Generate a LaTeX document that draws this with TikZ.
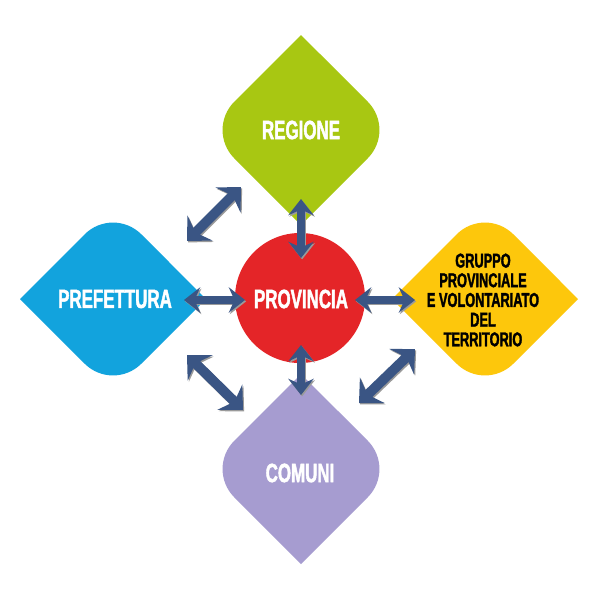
\documentclass[tikz,border=0pt]{standalone}
\usepackage{fontspec}
\newfontfamily\cond[FakeStretch=0.64, BoldFeatures={FakeBold=1.6}]{Liberation Sans}
\usetikzlibrary{arrows.meta}
\definecolor{cgreen}{HTML}{A8C712}
\definecolor{cblue}{HTML}{12A3DD}
\definecolor{cyellow}{HTML}{FDC70C}
\definecolor{cpurple}{HTML}{A69CD0}
\definecolor{cred}{HTML}{E42528}
\definecolor{carrow}{HTML}{3A5584}
\definecolor{cshadow}{HTML}{9A9A9A}
% vertical drop: sharp top/bottom, rounded left/right
\newcommand\vdropshape[3]{%
  \fill[#3] (#1,#2-95) -- (#1-66.72,#2-28.28) arc[start angle=225,end angle=135,radius=40]
    -- (#1,#2+95) -- (#1+66.72,#2+28.28) arc[start angle=45,end angle=-45,radius=40] -- cycle;}
% horizontal drop: sharp left/right, rounded top/bottom
\newcommand\hdropshape[3]{%
  \fill[#3] (#1-93,#2) -- (#1-28.28,#2-64.72) arc[start angle=225,end angle=315,radius=40]
    -- (#1+93,#2) -- (#1+28.28,#2+64.72) arc[start angle=45,end angle=135,radius=40] -- cycle;}
\newcommand\dblarrow[3]{%
  \draw[#1, cshadow, transform canvas={shift={(0.8pt,-1pt)}}] (#2) -- (#3);
  \draw[#1, carrow] (#2) -- (#3);}
\tikzset{
  lblw/.style={text=white, inner sep=0pt, font=\cond\bfseries\fontsize{18.8}{20}\selectfont},
  lblk/.style={text=black, inner sep=0pt, align=center, font=\cond\bfseries\fontsize{14.2}{14}\selectfont},
  axarrow/.style={line width=5pt, >={Stealth[length=11.5pt,width=18pt,inset=4pt]}, <->},
  dgarrow/.style={line width=7pt, >={Stealth[length=13pt,width=25pt,inset=4.5pt]}, <->},
}
\begin{document}
\begin{tikzpicture}[x=0.025cm,y=-0.025cm]
\useasboundingbox (0,0) rectangle (600,600);
\fill[white] (0,0) rectangle (600,600);
% shapes
\vdropshape{301}{130}{cgreen}
\hdropshape{113}{299}{cblue}
\hdropshape{485}{299}{cyellow}
\vdropshape{301}{469}{cpurple}
\node[circle, fill=cred, minimum size=3.25cm, inner sep=0pt] (prov) at (300,298) {};
% arrow end points
\coordinate (a1s) at (301,199); \coordinate (a1e) at (301,258);
\coordinate (a2s) at (301,345); \coordinate (a2e) at (301,395);
\coordinate (a3s) at (184,300); \coordinate (a3e) at (245,300);
\coordinate (a4s) at (355,300); \coordinate (a4e) at (415,300);
\coordinate (a5s) at (187,241); \coordinate (a5e) at (241,187);
\coordinate (a6s) at (187,355); \coordinate (a6e) at (243,410);
\coordinate (a7s) at (359,403); \coordinate (a7e) at (415,349);
\dblarrow{axarrow}{a1s}{a1e}
\dblarrow{axarrow}{a2s}{a2e}
\dblarrow{axarrow}{a3s}{a3e}
\dblarrow{axarrow}{a4s}{a4e}
\dblarrow{dgarrow}{a5s}{a5e}
\dblarrow{dgarrow}{a6s}{a6e}
\dblarrow{dgarrow}{a7s}{a7e}
% labels
\node[lblw] (reg) at (301,130) {REGIONE};
\node[lblw] (pref) at (115,299) {PREFETTURA};
\node[lblw] (com) at (300,473) {COMUNI};
\node[lblw] (provl) at (301,299) {PROVINCIA};
\node[lblk] (grp) at (483,300) {GRUPPO\\PROVINCIALE\\E VOLONTARIATO\\DEL\\TERRITORIO};
\end{tikzpicture}
\end{document}
